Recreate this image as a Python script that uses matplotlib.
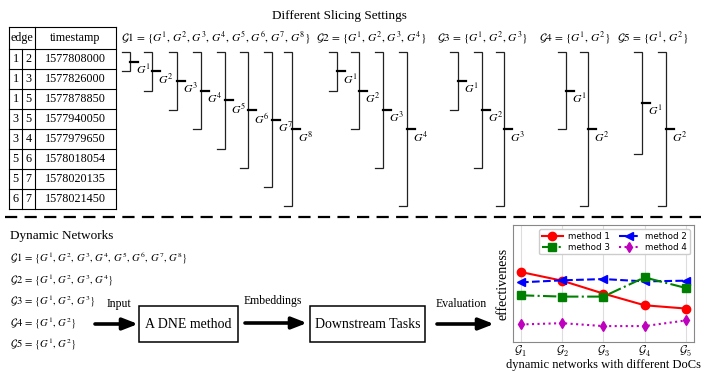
import matplotlib
matplotlib.use('Agg')
import matplotlib.pyplot as plt
from matplotlib.patches import Rectangle

plt.rcParams['mathtext.fontset'] = 'stix'
SERIF = 'Liberation Serif'

# ---------------- data ----------------
edge_src = [1, 1, 1, 3, 3, 5, 5, 6]
edge_dst = [2, 3, 5, 5, 4, 6, 7, 7]
timestamps = ['1577808000', '1577826000', '1577878850', '1577940050',
              '1577979650', '1578018054', '1578020135', '1578021450']

# slicing settings: cumulative number of table rows covered by each snapshot
slice_g1 = [1, 2, 3, 4, 5, 6, 7, 8]
slice_g2 = [2, 4, 6, 8]
slice_g3 = [3, 6, 8]
slice_g4 = [4, 8]
slice_g5 = [5.3, 8]
slice_settings = [slice_g1, slice_g2, slice_g3, slice_g4, slice_g5]
setting_names = ['1', '2', '3', '4', '5']

# line chart
chart_x = [1, 2, 3, 4, 5]
chart_xticklabels = [r'$\mathcal{G}_1$', r'$\mathcal{G}_2$', r'$\mathcal{G}_3$',
                     r'$\mathcal{G}_4$', r'$\mathcal{G}_5$']
method_names = ['method 1', 'method 2', 'method 3', 'method 4']
method1 = [0.598, 0.524, 0.414, 0.314, 0.286]
method2 = [0.510, 0.527, 0.538, 0.518, 0.524]
method3 = [0.399, 0.388, 0.388, 0.552, 0.462]
method4 = [0.150, 0.161, 0.136, 0.136, 0.184]

# ---------------- figure ----------------
fig = plt.figure(figsize=(7.07, 3.71), dpi=100)
ax = fig.add_axes([0, 0, 1, 1])
ax.set_xlim(0, 707)
ax.set_ylim(371, 0)
ax.axis('off')

def set_label(k, n):
    parts = r',\, '.join('G^{%d}' % (i + 1) for i in range(n))
    return r'$\mathcal{G}%s\, =\, \{%s\}$' % (k, parts)

# title
ax.text(339, 16, 'Different Slicing Settings', family=SERIF, fontsize=9.5,
        ha='center', va='center')

# table
col_x = [9, 22, 35, 116]
top, head_bot, row_h = 27, 48.5, 20.1
n_rows = len(timestamps)
bottom = head_bot + row_h * n_rows
lw_t = 0.8
for xv in (col_x[0], col_x[2], col_x[3]):
    ax.plot([xv, xv], [top, bottom], color='black', lw=lw_t)
ax.plot([col_x[1], col_x[1]], [head_bot, bottom], color='black', lw=lw_t)
ax.plot([col_x[0], col_x[3]], [top, top], color='black', lw=lw_t)
for r in range(n_rows + 1):
    yv = head_bot + r * row_h
    ax.plot([col_x[0], col_x[3]], [yv, yv], color='black', lw=lw_t)
fs_t = 8.7
ax.text((col_x[0] + col_x[2]) / 2, (top + head_bot) / 2, 'edge', family=SERIF,
        fontsize=fs_t, ha='center', va='center')
ax.text((col_x[2] + col_x[3]) / 2, (top + head_bot) / 2, 'timestamp', family=SERIF,
        fontsize=fs_t, ha='center', va='center')
for r in range(n_rows):
    yc = head_bot + (r + 0.5) * row_h
    ax.text((col_x[0] + col_x[1]) / 2, yc, str(edge_src[r]), family=SERIF,
            fontsize=fs_t, ha='center', va='center')
    ax.text((col_x[1] + col_x[2]) / 2, yc, str(edge_dst[r]), family=SERIF,
            fontsize=fs_t, ha='center', va='center')
    ax.text((col_x[2] + col_x[3]) / 2, yc, timestamps[r], family=SERIF,
            fontsize=fs_t, ha='center', va='center')

# slicing settings with brackets
label_x = [121, 316, 437, 539, 617]
bracket_x = [[130, 152, 177, 201, 225, 248, 272, 292],
             [337, 359, 383, 407],
             [458, 482, 504],
             [566, 588],
             [642, 666]]
b_top = 52
b_step = 19.3
for si, ends in enumerate(slice_settings):
    ax.text(label_x[si], 38, set_label(setting_names[si], len(ends)),
            fontsize=8.2, ha='left', va='center')
    for k, e in enumerate(ends):
        xb = bracket_x[si][k]
        yb = b_top + b_step * e
        ax.plot([xb - 8, xb, xb, xb - 8], [b_top, b_top, yb, yb],
                color='#222222', lw=0.9, solid_joinstyle='miter')
        ym = (b_top + yb) / 2
        ax.plot([xb, xb + 8], [ym, ym], color='black', lw=1.6)
        ax.text(xb + 6, ym + 1, r'$G^{%d}$' % (k + 1), fontsize=8.5,
                ha='left', va='top')

# dashed separator
ax.plot([5, 701], [217, 217], color='black', lw=1.6, dashes=(5.5, 3.3))

# dynamic networks list
ax.text(10, 236, 'Dynamic Networks', family=SERIF, fontsize=9.5,
        ha='left', va='center')
list_y = [258, 280, 301, 323, 344]
for si, ends in enumerate(slice_settings):
    ax.text(10, list_y[si], set_label(setting_names[si], len(ends)),
            fontsize=7.7, ha='left', va='center')

# pipeline
def arrow(x0, x1, y):
    ax.annotate('', xy=(x1, y), xytext=(x0, y),
                arrowprops=dict(arrowstyle='-|>,head_length=0.9,head_width=0.35',
                                lw=2.6, color='black', shrinkA=0, shrinkB=0))

arrow(95, 138, 324)
arrow(245, 307, 323)
arrow(437, 494, 324)
ax.add_patch(Rectangle((139, 306), 99, 36, fill=False, ec='black', lw=1.1))
ax.add_patch(Rectangle((310, 306), 115, 36, fill=False, ec='black', lw=1.1))
ax.text(188.5, 324.5, 'A DNE method', family=SERIF, fontsize=10,
        ha='center', va='center')
ax.text(367.5, 324.5, 'Downstream Tasks', family=SERIF, fontsize=10,
        ha='center', va='center')
ax.text(119, 304, 'Input', family=SERIF, fontsize=8.5, ha='center', va='center')
ax.text(273, 301, 'Embeddings', family=SERIF, fontsize=8.5, ha='center', va='center')
ax.text(461, 304, 'Evaluation', family=SERIF, fontsize=8.5, ha='center', va='center')

# ---------------- line chart ----------------
cax = fig.add_axes([512.7 / 707, 1 - 342 / 371, 181.3 / 707, 117 / 371])
h1, = cax.plot(chart_x, method1, color='red', ls='-', marker='o', lw=1.5, ms=6,
               label=method_names[0])
h2, = cax.plot(chart_x, method2, color='blue', ls='--', marker='<', lw=1.5, ms=6,
               label=method_names[1])
h3, = cax.plot(chart_x, method3, color='green', ls='-.', marker='s', lw=1.5, ms=5.5,
               label=method_names[2])
h4, = cax.plot(chart_x, method4, color='m', ls=':', marker='d', lw=1.5, ms=5.5,
               label=method_names[3])
cax.set_xlim(0.8, 5.2)
cax.set_ylim(0, 1)
cax.set_xticks(chart_x)
cax.set_xticklabels(chart_xticklabels, fontsize=8.5, math_fontfamily='cm')
cax.set_yticks([])
cax.tick_params(axis='x', length=0, pad=1.5)
cax.grid(axis='x', color='#dddddd', lw=0.8)
for sp in cax.spines.values():
    sp.set_color('#888888')
    sp.set_linewidth(0.8)
cax.set_xlabel('dynamic networks with different DoCs', family=SERIF, fontsize=9,
               labelpad=0)
cax.set_ylabel('effectiveness', family=SERIF, fontsize=10, labelpad=2)
cax.legend([h1, h3, h2, h4], [method_names[0], method_names[2], method_names[1],
                              method_names[3]],
           loc='upper right', ncol=2, fontsize=6.3, handlelength=2.4,
           columnspacing=1.0, borderpad=0.3, labelspacing=0.2,
           handletextpad=0.6, framealpha=1, edgecolor='#cccccc')

fig.savefig('out.png', dpi=100)
